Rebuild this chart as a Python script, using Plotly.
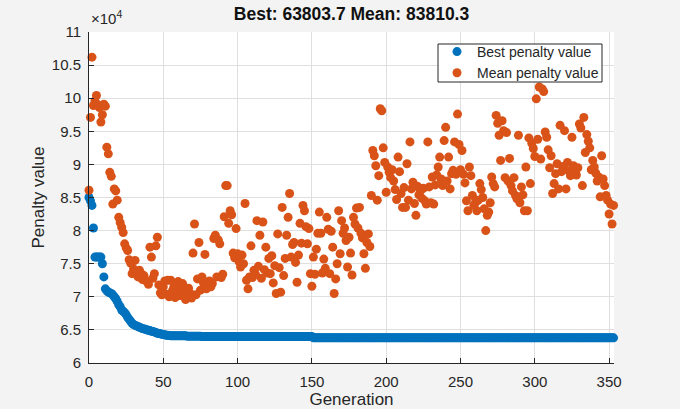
import plotly.graph_objects as go

# ---------------- data (values in thousands) ----------------
generations = list(range(354))

best_penalty_k = (
    [85.0, 84.5, 83.8, 80.4, 76.0, 76.0, 76.0, 76.0, 76.0, 75.0,
     73.0, 71.2, 70.9, 70.7, 70.6, 70.5, 70.3, 70.0, 69.7, 69.3,
     68.8, 68.5, 68.0, 67.8, 67.6, 67.3, 66.9, 66.6, 66.3, 66.0,
     65.8, 65.7, 65.6, 65.5, 65.4, 65.3, 65.2, 65.15, 65.1, 65.0,
     64.95, 64.9, 64.8, 64.75, 64.7, 64.6, 64.5, 64.45, 64.4, 64.35,
     64.3, 64.25, 64.2, 64.2, 64.15, 64.1]
    + [64.1] * 10
    + [64.05] * 10
    + [64.0] * 75
    + [63.8037] * 203
)

mean_penalty_k = [
    86.1, 97.1, 106.2, 98.9, 99.6, 100.4, 99.0, 98.6, 96.4, 97.5,
    99.1, 98.8, 92.6, 91.6, 88.8, 88.2, 84.0, 86.3, 86.0, 84.6,
    82.0, 81.2, 80.5, 79.7, 78.0, 77.4, 77.0, 75.6, 75.1, 73.5,
    74.2, 75.5, 73.6, 73.0, 74.0, 73.5, 72.6, 73.2, 72.5, 72.3,
    71.9, 77.5, 76.0, 72.8, 73.5, 77.7, 79.0, 71.8, 70.6, 70.3,
    71.5, 72.4, 70.4, 72.5, 70.0, 72.5, 70.8, 71.4, 69.9, 70.6,
    72.3, 70.2, 71.1, 72.0, 70.0, 69.6, 70.9, 71.3, 70.5, 69.8,
    76.6, 81.0, 70.3, 72.7, 78.2, 71.0, 73.0, 72.1, 76.4, 71.2,
    71.6, 72.4, 71.5, 72.0, 78.8, 79.3, 73.0, 78.6, 78.0, 72.9,
    73.4, 82.1, 86.8, 86.8, 81.1, 83.0, 82.4, 76.6, 75.9, 80.3,
    76.5, 75.3, 74.5, 76.3, 75.0, 84.1, 72.5, 71.2, 73.0, 77.7,
    72.9, 74.0, 73.4, 81.5, 74.6, 79.3, 72.8, 81.3, 74.1, 77.5,
    73.6, 75.8, 73.5, 76.2, 72.1, 74.7, 70.5, 79.5, 74.4, 70.7,
    83.5, 73.2, 75.8, 79.3, 82.0, 85.6, 76.0, 77.9, 78.2, 75.2,
    72.2, 76.3, 81.1, 78.1, 83.8, 83.0, 80.6, 78.0, 80.3, 73.5,
    71.6, 76.0, 73.4, 77.2, 79.6, 82.8, 79.6, 73.6, 75.7, 74.3,
    82.0, 80.2, 73.5, 79.9, 77.5, 70.5, 72.7, 75.0, 83.0, 76.5,
    81.5, 79.6, 80.4, 78.5, 74.5, 79.0, 76.6, 73.3, 82.0, 81.0,
    83.4, 80.4, 83.5, 79.6, 78.9, 76.5, 74.3, 78.2, 79.5, 77.6,
    85.3, 92.1, 91.3, 89.8, 84.6, 88.3, 98.4, 98.1, 92.5, 90.3,
    85.8, 89.6, 88.8, 88.0, 89.2, 87.5, 86.2, 84.7, 91.1, 88.9,
    85.6, 83.5, 86.5, 83.5, 90.1, 84.6, 93.4, 86.3, 87.3, 84.1,
    82.3, 86.7, 85.4, 86.0, 84.9, 86.4, 84.5, 84.0, 93.4, 86.6,
    84.2, 88.1, 84.0, 86.9, 88.4, 89.6, 91.1, 87.8, 86.8, 93.6,
    95.6, 87.5, 91.1, 86.3, 88.6, 89.1, 93.4, 88.5, 97.6, 93.0,
    89.2, 92.1, 88.5, 87.2, 84.5, 83.0, 89.6, 88.3, 85.3, 83.8,
    84.2, 83.0, 84.6, 87.1, 86.2, 85.0, 83.3, 80.0, 82.3, 82.8,
    84.2, 88.1, 87.1, 86.6, 97.4, 96.2, 94.4, 90.6, 96.6, 95.1,
    88.0, 94.8, 87.5, 90.9, 86.8, 86.0, 88.0, 85.3, 84.8, 94.4,
    84.2, 86.6, 85.4, 83.0, 89.6, 83.0, 94.0, 87.1, 93.2, 92.4,
    91.2, 99.9, 93.8, 101.7, 90.8, 101.4, 101.0, 94.9, 94.1, 92.2,
    89.5, 91.3, 85.6, 87.1, 88.6, 90.1, 86.3, 95.9, 88.9, 89.7,
    95.1, 86.3, 90.3, 89.0, 88.3, 94.1, 89.8, 89.1, 88.4, 89.5,
    96.1, 95.5, 86.8, 97.1, 91.8, 94.5, 93.5, 92.5, 89.2, 90.6,
    89.6, 88.7, 87.5, 88.1, 85.1, 91.3, 87.8, 86.8, 85.3, 84.6,
    82.5, 84.0, 81.0, 83.81,
]

y_tick_values = [6, 6.5, 7, 7.5, 8, 8.5, 9, 9.5, 10, 10.5, 11]   # x 10^4
y_tick_labels = ["6", "6.5", "7", "7.5", "8", "8.5", "9", "9.5", "10", "10.5", "11"]
x_tick_values = [0, 50, 100, 150, 200, 250, 300, 350]

title_text = "Best: 63803.7 Mean: 83810.3"

# ---------------- figure ----------------
best_vals = [v * 1000 for v in best_penalty_k]
mean_vals = [v * 1000 for v in mean_penalty_k]

FONT = "Liberation Sans, Arial, Helvetica, sans-serif"
DARK = "#262626"
W, H = 680, 409
ML, MR, MT, MB = 89, 66, 32, 46
PW, PH = W - ML - MR, H - MT - MB


def px_x(p):
    return (p - ML) / PW


def px_y(p):
    return (H - MB - p) / PH


fig = go.Figure()
fig.add_trace(go.Scatter(
    x=generations, y=best_vals, mode="markers", name="Best penalty value",
    marker=dict(color="#0072BD", size=9, line=dict(width=0)),
    cliponaxis=False,
))
fig.add_trace(go.Scatter(
    x=generations, y=mean_vals, mode="markers", name="Mean penalty value",
    marker=dict(color="#D95319", size=9, line=dict(width=0)),
    cliponaxis=False,
))

fig.update_layout(
    width=W, height=H,
    margin=dict(l=ML, r=MR, t=MT, b=MB, autoexpand=False),
    paper_bgcolor="#f3f3f3",
    plot_bgcolor="white",
    font=dict(family=FONT, color=DARK, size=15),
    title=dict(
        text="<b>" + title_text + "</b>",
        x=0.5, xref="paper", xanchor="center",
        y=1 - 14 / H, yref="container", yanchor="middle",
        font=dict(size=17.5, color="#111111", family=FONT),
    ),
    showlegend=True,
    legend=dict(
        x=px_x(437), xanchor="left", y=px_y(36), yanchor="top",
        bgcolor="rgba(0,0,0,0)", borderwidth=0,
        font=dict(size=14, color=DARK, family=FONT),
        tracegroupgap=0, itemwidth=30,
    ),
    shapes=[dict(
        type="rect", xref="paper", yref="paper",
        x0=px_x(438), x1=px_x(602), y0=px_y(82), y1=px_y(44),
        fillcolor="white", line=dict(color=DARK, width=1), layer="above",
    )],
)

fig.update_xaxes(
    range=[0, 353.3],
    tickvals=x_tick_values,
    ticks="inside", ticklen=5, tickcolor=DARK, tickwidth=1,
    showline=True, linecolor=DARK, linewidth=1,
    showgrid=True, gridcolor="#dfdfdf", gridwidth=1,
    zeroline=False, mirror=False, automargin=False,
    tickfont=dict(size=15, color=DARK),
    ticklabelstandoff=5,
    title=dict(text="Generation", font=dict(size=17, color=DARK), standoff=3),
)
fig.update_yaxes(
    range=[60000, 110000],
    tickvals=[v * 10000 for v in y_tick_values],
    ticktext=y_tick_labels,
    ticks="inside", ticklen=5, tickcolor=DARK, tickwidth=1,
    showline=True, linecolor=DARK, linewidth=1,
    showgrid=True, gridcolor="#dfdfdf", gridwidth=1,
    zeroline=False, mirror=False, automargin=False,
    tickfont=dict(size=15, color=DARK),
    ticklabelstandoff=4,
    title=dict(text="Penalty value", font=dict(size=17, color=DARK), standoff=2),
)

fig.add_annotation(
    text="×10<sup>4</sup>", xref="paper", yref="paper", x=0, y=1,
    xanchor="left", yanchor="bottom", yshift=3, showarrow=False,
    font=dict(size=15, color=DARK, family=FONT),
)

fig.write_html("out.html")
